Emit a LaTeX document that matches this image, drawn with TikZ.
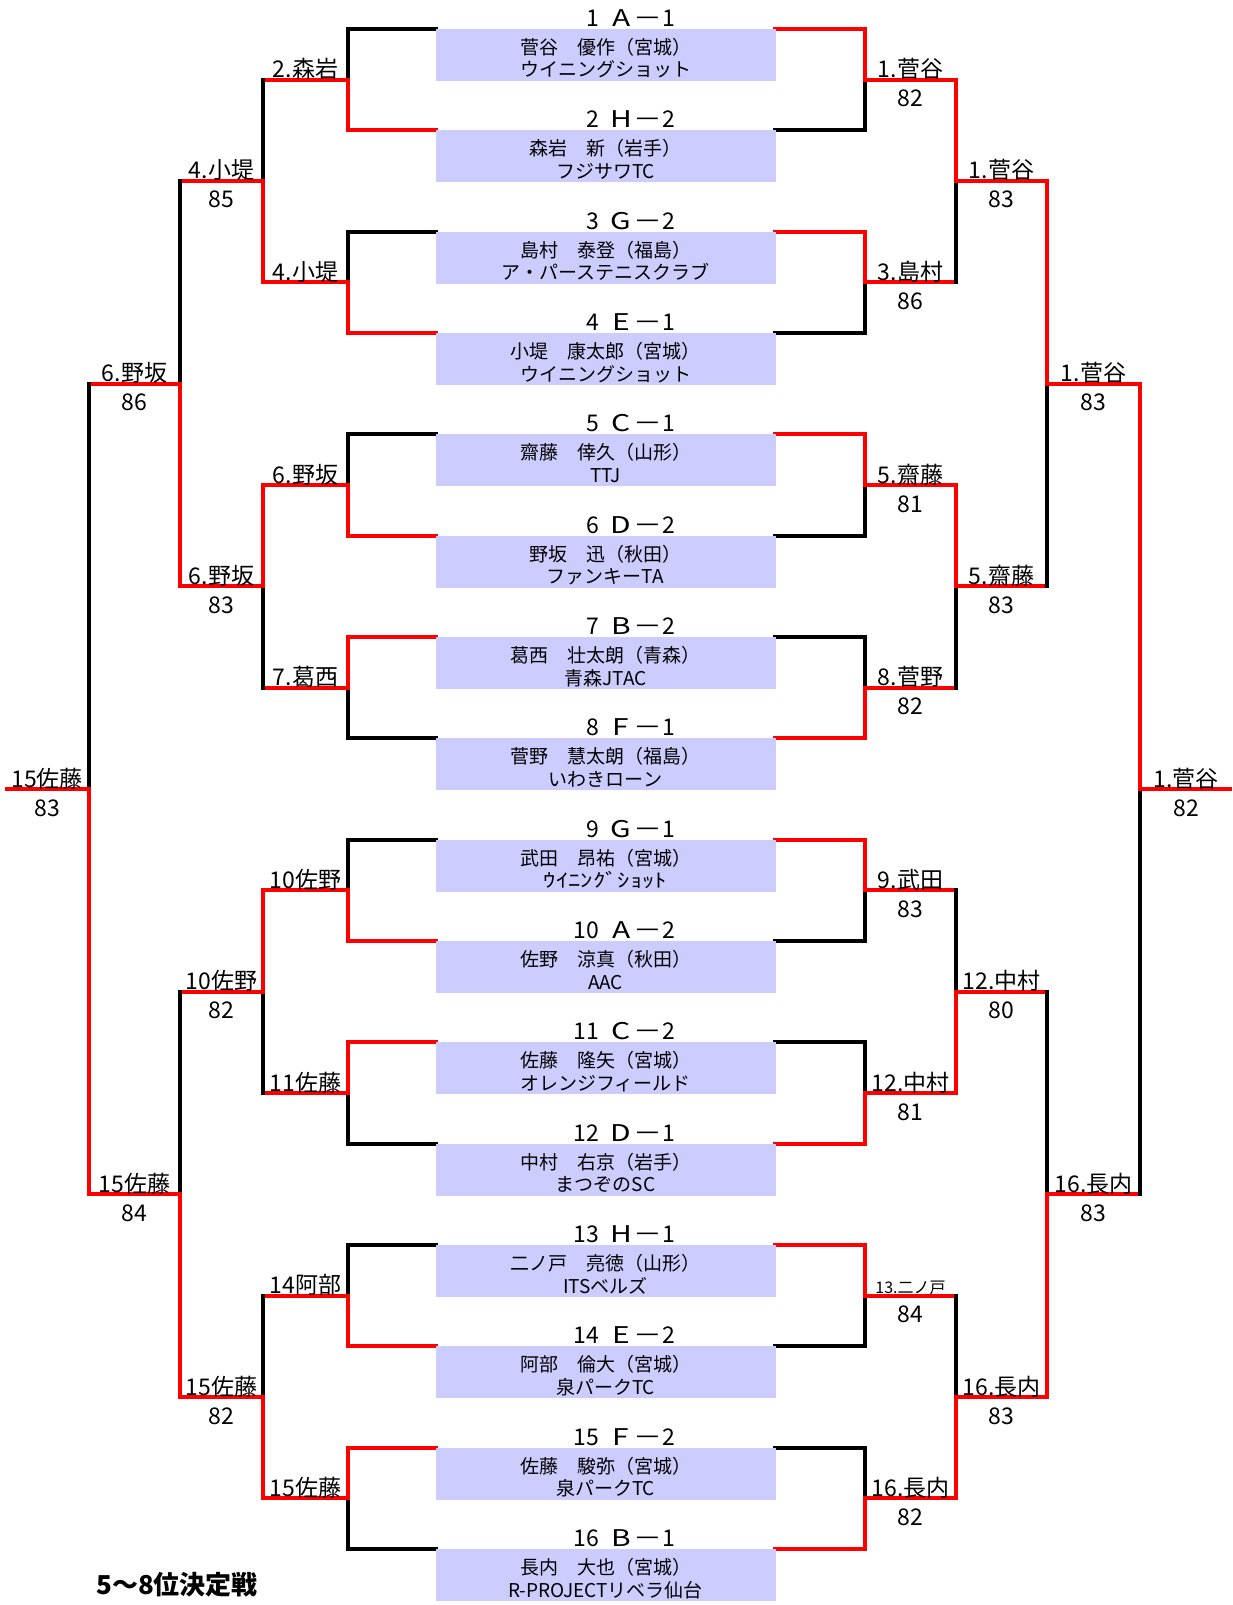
\documentclass[tikz,border=0pt]{standalone}
\usepackage{fontspec}
\setmainfont{Noto Sans CJK JP}
\usetikzlibrary{calc}
\definecolor{boxfill}{HTML}{CCCCFF}
\definecolor{wred}{HTML}{FF0000}
\tikzset{
  ln/.style={line width=4pt, line cap=rect, line join=miter},
  lose/.style={ln, draw=black},
  win/.style={ln, draw=wred},
  pbox/.style={rectangle, fill=boxfill, draw=none, minimum width=340pt, minimum height=52pt, inner sep=0pt, outer sep=0pt, anchor=north west},
  nm/.style={anchor=base, inner sep=0pt, font=\fontsize{19}{19}\selectfont},
  ml/.style={anchor=base west, inner sep=0pt, font=\fontsize{23}{23}\selectfont},
  wl/.style={anchor=base, inner sep=0pt, font=\fontsize{23}{23}\selectfont},
  wls/.style={anchor=base, inner sep=0pt, font=\fontsize{16}{16}\selectfont},
  ttl/.style={anchor=base west, inner sep=0pt, font=\fontsize{26}{26}\selectfont\bfseries},
}
\newcommand\lvA[6]{%
  \draw[lose] (#1 -| #4) -- (#1 -| #5) -- (#3 -| #5);
  \draw[win] (#2 -| #4) -- (#2 -| #5) -- (#3 -| #5) -- (#3 -| #6);}
\newcommand\lvB[5]{%
  \draw[lose] (#1 -| #4) -- (#3 -| #4);
  \draw[win] (#2 -| #4) -- (#3 -| #4) -- (#3 -| #5);}
\newcommand\mtag[3]{\makebox[39pt][r]{#1}\hspace{10pt}\makebox[24pt]{\scalebox{1.3}[1]{#2}}\makebox[29pt]{\scalebox{1.25}[1]{－}}\makebox[13pt]{#3}}
% winner label with score
\newcommand\wsc[5]{%
  \node[wl] (#1) at ($(#2 -| #3)+(0,-2)$) {#4};
  \node[wl] (#1s) at ($(#2 -| #3)+(0,27)$) {#5};}
\begin{document}
\begin{tikzpicture}[x=1pt,y=-1pt]
\useasboundingbox (0,0) rectangle (1232,1605);
% vertical reference lines (x positions)
\coordinate (xLb) at (436,0);
\coordinate (xL1) at (348,0);
\coordinate (xL2) at (263,0);
\coordinate (xL3) at (180,0);
\coordinate (xL4) at (89,0);
\coordinate (xL5) at (7,0);
\coordinate (xRb) at (775,0);
\coordinate (xR1) at (865,0);
\coordinate (xR2) at (956,0);
\coordinate (xR3) at (1047,0);
\coordinate (xR4) at (1140,0);
\coordinate (xR5) at (1230,0);
\coordinate (xLc1) at (305.5,0);
\coordinate (xLc2) at (221.5,0);
\coordinate (xLc3) at (134.5,0);
\coordinate (xLc4) at (47,0);
\coordinate (xRc1) at (910.5,0);
\coordinate (xRc2) at (1001.5,0);
\coordinate (xRc3) at (1093.5,0);
\coordinate (xRc4) at (1186,0);
\coordinate (xBc) at (605.5,0);
\coordinate (xMl) at (560,0);
% entry rows
\foreach \i in {1,...,16} {\coordinate (e\i) at (0,{29+101.3333*(\i-1)});}
\foreach \k in {1,...,8} {\pgfmathtruncatemacro\t{2*\k-1}\pgfmathtruncatemacro\b{2*\k}
  \coordinate (a\k) at ($(e\t)!0.5!(e\b)$);}
\foreach \k in {1,...,4} {\pgfmathtruncatemacro\t{2*\k-1}\pgfmathtruncatemacro\b{2*\k}
  \coordinate (b\k) at ($(a\t)!0.5!(a\b)$);}
\coordinate (c1) at ($(b1)!0.5!(b2)$);
\coordinate (c2) at ($(b3)!0.5!(b4)$);
\coordinate (d1) at ($(c1)!0.5!(c2)$);

% ---------------- left bracket
\lvA{e1}{e2}{a1}{xLb}{xL1}{xL2}
\lvA{e3}{e4}{a2}{xLb}{xL1}{xL2}
\lvA{e5}{e6}{a3}{xLb}{xL1}{xL2}
\lvA{e8}{e7}{a4}{xLb}{xL1}{xL2}
\lvA{e9}{e10}{a5}{xLb}{xL1}{xL2}
\lvA{e12}{e11}{a6}{xLb}{xL1}{xL2}
\lvA{e13}{e14}{a7}{xLb}{xL1}{xL2}
\lvA{e16}{e15}{a8}{xLb}{xL1}{xL2}
\lvB{a1}{a2}{b1}{xL2}{xL3}
\lvB{a4}{a3}{b2}{xL2}{xL3}
\lvB{a6}{a5}{b3}{xL2}{xL3}
\lvB{a7}{a8}{b4}{xL2}{xL3}
\lvB{b1}{b2}{c1}{xL3}{xL4}
\lvB{b3}{b4}{c2}{xL3}{xL4}
\lvB{c1}{c2}{d1}{xL4}{xL5}

% ---------------- right bracket
\lvA{e2}{e1}{a1}{xRb}{xR1}{xR2}
\lvA{e4}{e3}{a2}{xRb}{xR1}{xR2}
\lvA{e6}{e5}{a3}{xRb}{xR1}{xR2}
\lvA{e7}{e8}{a4}{xRb}{xR1}{xR2}
\lvA{e10}{e9}{a5}{xRb}{xR1}{xR2}
\lvA{e11}{e12}{a6}{xRb}{xR1}{xR2}
\lvA{e14}{e13}{a7}{xRb}{xR1}{xR2}
\lvA{e15}{e16}{a8}{xRb}{xR1}{xR2}
\lvB{a2}{a1}{b1}{xR2}{xR3}
\lvB{a4}{a3}{b2}{xR2}{xR3}
\lvB{a5}{a6}{b3}{xR2}{xR3}
\lvB{a7}{a8}{b4}{xR2}{xR3}
\lvB{b2}{b1}{c1}{xR3}{xR4}
\lvB{b3}{b4}{c2}{xR3}{xR4}
\lvB{c2}{c1}{d1}{xR4}{xR5}

% ---------------- player boxes
\foreach \i/\n/\l/\d/\nm/\cl in {
 1/1/A/1/菅谷　優作（宮城）/ウイニングショット,
 2/2/H/2/森岩　新（岩手）/フジサワTC,
 3/3/G/2/島村　泰登（福島）/ア・パーステニスクラブ,
 4/4/E/1/小堤　康太郎（宮城）/ウイニングショット,
 5/5/C/1/齋藤　倖久（山形）/TTJ,
 6/6/D/2/野坂　迅（秋田）/ファンキーTA,
 7/7/B/2/葛西　壮太朗（青森）/青森JTAC,
 8/8/F/1/菅野　慧太朗（福島）/いわきローン,
 9/9/G/1/武田　昂祐（宮城）/\scalebox{1.3}[1]{ｳｲﾆﾝｸﾞｼｮｯﾄ},
 10/10/A/2/佐野　涼真（秋田）/AAC,
 11/11/C/2/佐藤　隆矢（宮城）/オレンジフィールド,
 12/12/D/1/中村　右京（岩手）/まつぞのSC,
 13/13/H/1/二ノ戸　亮徳（山形）/ITSベルズ,
 14/14/E/2/阿部　倫大（宮城）/泉パークTC,
 15/15/F/2/佐藤　駿弥（宮城）/泉パークTC,
 16/16/B/1/長内　大也（宮城）/R-PROJECTリベラ仙台} {
  \node[pbox] (p\i) at (e\i -| xLb) {};
  \node[ml] (t\i) at ($(e\i -| xMl)+(0,-2.5)$) {\mtag{\n}{\l}{\d}};
  \node[nm] (n\i) at ($(e\i -| xBc)+(0,25.5)$) {\nm};
  \node[nm] (k\i) at ($(e\i -| xBc)+(0,48)$) {\cl};
}

% ---------------- left labels
\node[wl] (la1) at ($(a1 -| xLc1)+(0,-2)$) {2.森岩};
\node[wl] (la2) at ($(a2 -| xLc1)+(0,-2)$) {4.小堤};
\node[wl] (la3) at ($(a3 -| xLc1)+(0,-2)$) {6.野坂};
\node[wl] (la4) at ($(a4 -| xLc1)+(0,-2)$) {7.葛西};
\node[wl] (la5) at ($(a5 -| xLc1)+(0,-2)$) {10佐野};
\node[wl] (la6) at ($(a6 -| xLc1)+(0,-2)$) {11佐藤};
\node[wl] (la7) at ($(a7 -| xLc1)+(0,-2)$) {14阿部};
\node[wl] (la8) at ($(a8 -| xLc1)+(0,-2)$) {15佐藤};
\wsc{lb1}{b1}{xLc2}{4.小堤}{85}
\wsc{lb2}{b2}{xLc2}{6.野坂}{83}
\wsc{lb3}{b3}{xLc2}{10佐野}{82}
\wsc{lb4}{b4}{xLc2}{15佐藤}{82}
\wsc{lc1}{c1}{xLc3}{6.野坂}{86}
\wsc{lc2}{c2}{xLc3}{15佐藤}{84}
\wsc{ld1}{d1}{xLc4}{15佐藤}{83}

% ---------------- right labels
\wsc{ra1}{a1}{xRc1}{1.菅谷}{82}
\wsc{ra2}{a2}{xRc1}{3.島村}{86}
\wsc{ra3}{a3}{xRc1}{5.齋藤}{81}
\wsc{ra4}{a4}{xRc1}{8.菅野}{82}
\wsc{ra5}{a5}{xRc1}{9.武田}{83}
\wsc{ra6}{a6}{xRc1}{12.中村}{81}
\node[wls] (ra7) at ($(a7 -| xRc1)+(0,-2)$) {13.二ノ戸};
\node[wl] (ra7s) at ($(a7 -| xRc1)+(0,27)$) {84};
\wsc{ra8}{a8}{xRc1}{16.長内}{82}
\wsc{rb1}{b1}{xRc2}{1.菅谷}{83}
\wsc{rb2}{b2}{xRc2}{5.齋藤}{83}
\wsc{rb3}{b3}{xRc2}{12.中村}{80}
\wsc{rb4}{b4}{xRc2}{16.長内}{83}
\wsc{rc1}{c1}{xRc3}{1.菅谷}{83}
\wsc{rc2}{c2}{xRc3}{16.長内}{83}
\wsc{rd1}{d1}{xRc4}{1.菅谷}{82}

% ---------------- title
\node[ttl] (title) at (96,1594) {5～8位決定戦};
\end{tikzpicture}
\end{document}
